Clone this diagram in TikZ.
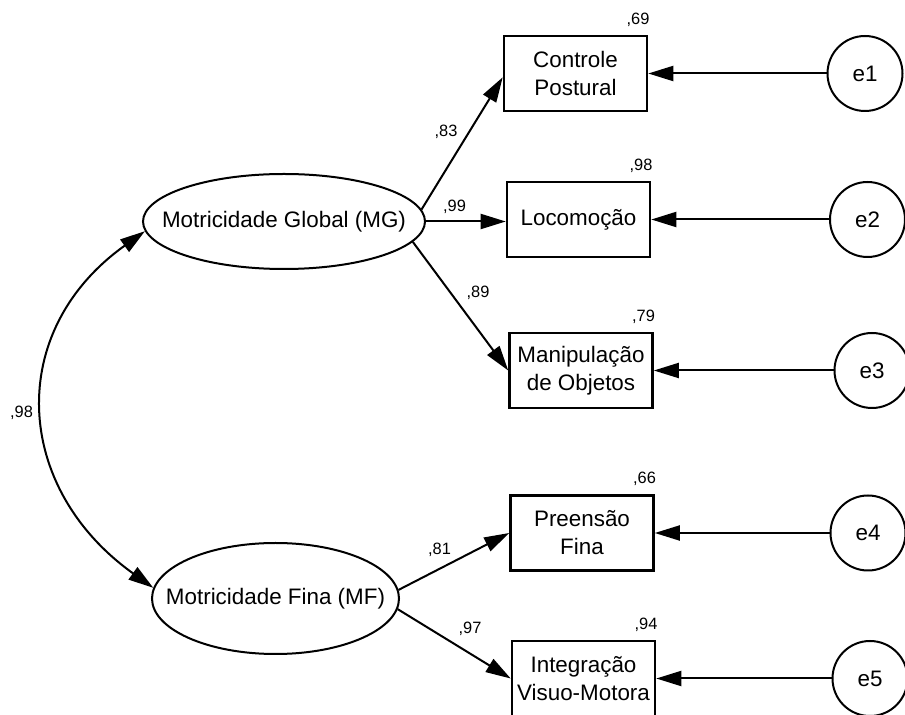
\documentclass[tikz,border=0pt]{standalone}
\usepackage{fontspec}
\setmainfont{Liberation Sans}
\usetikzlibrary{arrows.meta}
\usetikzlibrary{shapes.geometric}

\begin{document}
\begin{tikzpicture}[x=0.5pt,y=-0.5pt]
		\tikzset{
			latent/.style={ellipse, draw, line width=1pt, inner ysep=0pt, inner xsep=-14pt, font=\fontsize{11.2}{14}\selectfont},
			observed/.style={rectangle, draw, line width=1.3pt, minimum width=71.5pt, minimum height=37.5pt, inner sep=0pt, align=center, font=\fontsize{11.2}{14}\selectfont},
			erro/.style={circle, draw, line width=1pt, minimum size=37.5pt, inner sep=0pt, font=\fontsize{11.2}{14}\selectfont},
			regr/.style={line width=1pt, -{Triangle[length=12.5pt,width=7.5pt]}},
			cov/.style={line width=1pt, {Triangle[length=12.5pt,width=7.5pt]}-{Triangle[length=12.5pt,width=7.5pt]}},
			coef/.style={font=\fontsize{8.2}{10}\selectfont, inner sep=0pt, anchor=base},
			rsq/.style={coef, anchor=base east}
		}
		\useasboundingbox (0,0) rectangle (905,715);
		
		\node[latent, minimum width=141pt, minimum height=47.5pt] (mg) at (284,221.5) {Motricidade Global (MG)};
		\node[latent, minimum width=123.5pt, minimum height=55.5pt] (mf) at (275.5,598.5) {Motricidade Fina (MF)};
		
		\node[observed] (cp) at (575.5,73.5) {Controle\\Postural};
		\node[observed] (loc) at (578.5,219.5) {Locomoção};
		\node[observed] (mo) at (581,370.5) {Manipulação\\de Objetos};
		\node[observed] (pf) at (582,533) {Preensão\\Fina};
		\node[observed] (ivm) at (583.5,678.5) {Integração\\Visuo-Motora};
		
		\node[erro] (e1) at (865,73.5) {e1};
		\node[erro] (e2) at (867.5,219.5) {e2};
		\node[erro] (e3) at (872,370.5) {e3};
		\node[erro] (e4) at (868,533) {e4};
		\node[erro] (e5) at (870,678.5) {e5};
		
		\draw[regr] (mg.5) -- (cp.183);
		\draw[regr] (mg.east) -- (mg.east -| loc.west);
		\draw[regr] (mg.-9) -- (mo.west);
		\draw[regr] (mf.4) -- (pf.west);
		\draw[regr] (mf.-5) -- (ivm.west);
		\foreach \e/\v in {e1/cp, e2/loc, e3/mo, e4/pf, e5/ivm}
			\draw[regr] (\e) -- (\v);
		\draw[cov] (mg.184) .. controls +(-140,100) and +(-140,-100) .. (mf.175);
		
		\node[coef] (l83) at (446,137) {,83};
		\node[coef] (l99) at (454.5,212) {,99};
		\node[coef] (l89) at (478,298) {,89};
		\node[coef] (l81) at (439.5,555) {,81};
		\node[coef] (l97) at (470,634) {,97};
		\node[coef] (lcov) at (21.5,418) {,98};
		\foreach \v/\r in {cp/69, loc/98, mo/79, pf/66, ivm/94}
			\node[rsq] (r\v) at ([shift={(1.5,-10.5)}]\v.north east) {,\r};
	\end{tikzpicture}
\end{document}
